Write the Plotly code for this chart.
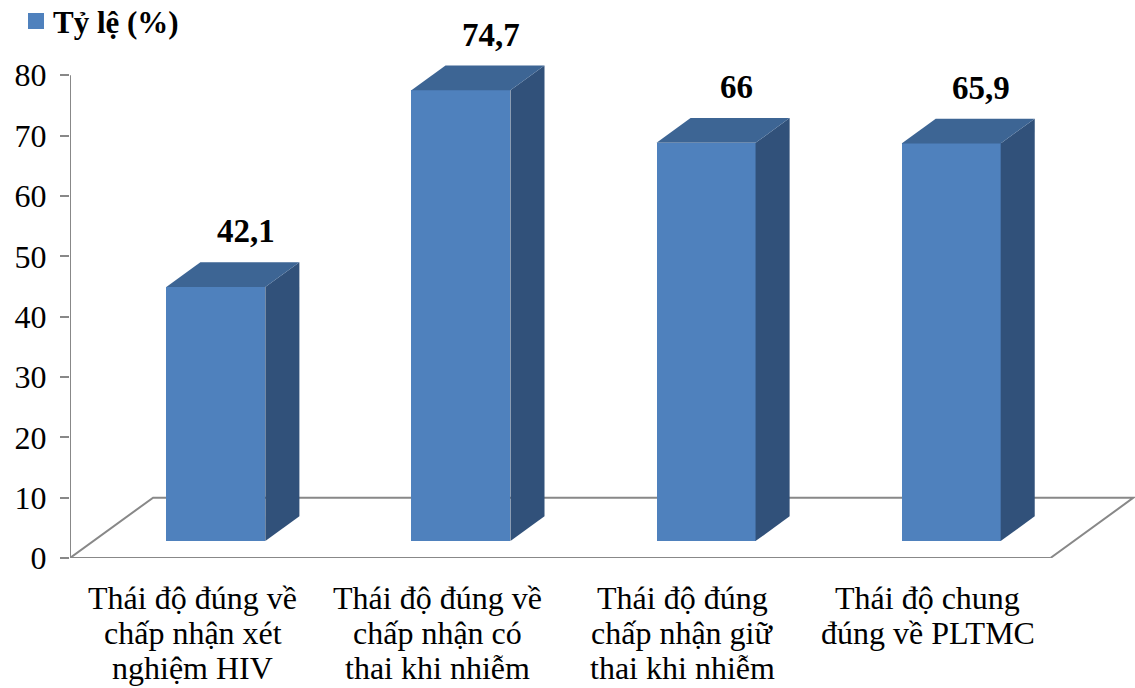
import plotly.graph_objects as go

# Data
categories = [
    ["Thái độ đúng về", "chấp nhận xét", "nghiệm HIV"],
    ["Thái độ đúng về", "chấp nhận có", "thai khi nhiễm"],
    ["Thái độ đúng", "chấp nhận giữ", "thai khi nhiễm"],
    ["Thái độ chung", "đúng về PLTMC"],
]
values = [42.1, 74.7, 66, 65.9]
value_text = ["42,1", "74,7", "66", "65,9"]
series_name = "Tỷ lệ (%)"
y_ticks = [0, 10, 20, 30, 40, 50, 60, 70, 80]

# Pseudo-3D geometry (axis units)
FLOOR_DX, FLOOR_DY = 0.339, 10.0      # depth of the floor in x / y units
FRONT_DEPTH, BAR_DEPTH = 0.28, 0.41   # bar position / thickness as fractions of floor depth
BAR_W = 0.404

front_dx, front_dy = FRONT_DEPTH * FLOOR_DX, FRONT_DEPTH * FLOOR_DY
side_dx, side_dy = BAR_DEPTH * FLOOR_DX, BAR_DEPTH * FLOOR_DY

FRONT = "#4F81BD"
TOP = "#3D6594"
SIDE = "#31517A"
GRID = "#888888"
FONT = "Liberation Serif"

fig = go.Figure()

centers = [i + 0.5 + front_dx for i in range(len(values))]

# Front faces
fig.add_trace(go.Bar(
    x=centers, y=values, base=[front_dy] * len(values), width=BAR_W,
    marker=dict(color=FRONT, line=dict(width=0)),
    name=series_name, showlegend=False, hoverinfo="skip",
))

# Side and top faces
for c, v in zip(centers, values):
    x0, x1 = c - BAR_W / 2, c + BAR_W / 2
    y0, y1 = front_dy, front_dy + v
    fig.add_trace(go.Scatter(
        x=[x1, x1 + side_dx, x1 + side_dx, x1, x1],
        y=[y0, y0 + side_dy, y1 + side_dy, y1, y0],
        fill="toself", fillcolor=SIDE, mode="lines", line=dict(width=0),
        showlegend=False, hoverinfo="skip",
    ))
    fig.add_trace(go.Scatter(
        x=[x0, x1, x1 + side_dx, x0 + side_dx, x0],
        y=[y1, y1, y1 + side_dy, y1 + side_dy, y1],
        fill="toself", fillcolor=TOP, mode="lines", line=dict(width=0),
        showlegend=False, hoverinfo="skip",
    ))

n = len(values)
# Floor outline, axis lines and legend key
shapes = [
    dict(type="path", xref="x", yref="y", layer="below",
         path=f"M0,0 L{FLOOR_DX},{FLOOR_DY} L{n + FLOOR_DX},{FLOOR_DY} L{n},0",
         line=dict(color=GRID, width=2)),
    dict(type="line", xref="x", yref="y", layer="below",
         x0=0, y0=0, x1=n, y1=0, line=dict(color=GRID, width=2)),
    dict(type="line", xref="x", yref="y", layer="below",
         x0=0, y0=0, x1=0, y1=y_ticks[-1], line=dict(color=GRID, width=2)),
    dict(type="rect", xref="paper", yref="paper", xsizemode="pixel", ysizemode="pixel",
         xanchor=0, yanchor=1, x0=-42, x1=-26, y0=-2, y1=14,
         fillcolor=FRONT, line=dict(width=0)),
]

annotations = [
    dict(xref="paper", yref="paper", x=0, y=1, xshift=-19, yshift=5,
         xanchor="left", yanchor="middle", text=f"<b>{series_name}</b>",
         showarrow=False, font=dict(family=FONT, size=31, color="black")),
]
# Value labels above each bar
for c, v, t in zip(centers, values, value_text):
    annotations.append(dict(
        x=c + side_dx / 2 + 0.053, y=front_dy + v + side_dy, xref="x", yref="y",
        text=f"<b>{t}</b>", showarrow=False, yshift=31, yanchor="middle",
        font=dict(family=FONT, size=33, color="black"),
    ))
# Category labels, one line each
for i, lines in enumerate(categories):
    for j, line in enumerate(lines):
        annotations.append(dict(
            x=i + 0.5, y=0, xref="x", yref="y", text=line, showarrow=False,
            yanchor="middle", yshift=-40 - 35 * j,
            font=dict(family=FONT, size=32, color="black"),
        ))

fig.update_layout(
    width=1135, height=688,
    margin=dict(l=70, r=0, t=27, b=130, autoexpand=False),
    paper_bgcolor="white", plot_bgcolor="white",
    shapes=shapes, annotations=annotations,
    bargap=0,
    showlegend=False,
    xaxis=dict(
        range=[0, n + FLOOR_DX + 0.006], showgrid=False, zeroline=False,
        showline=False, showticklabels=False, ticks="",
        minor=dict(ticks="outside", tick0=0, dtick=1, ticklen=9,
                   tickcolor=GRID, tickwidth=2, showgrid=False),
        fixedrange=True, automargin=False,
    ),
    yaxis=dict(
        range=[0, 88], tickvals=y_ticks, showgrid=False, zeroline=False,
        showline=False, ticks="outside", ticklen=9, tickcolor=GRID,
        tickwidth=2, tickfont=dict(family=FONT, size=32, color="black"),
        ticklabelstandoff=7,
        fixedrange=True, automargin=False,
    ),
)

fig.write_html("out.html")
